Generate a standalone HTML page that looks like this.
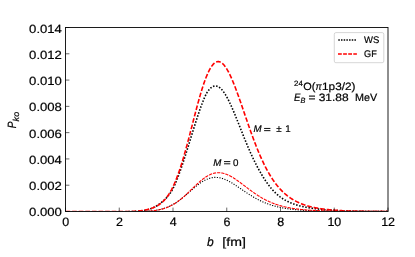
<!DOCTYPE html>
<html><head><meta charset="utf-8"><title>P_ko vs b</title>
<style>html,body{margin:0;padding:0;background:#fff;}body{width:415px;height:257px;overflow:hidden;font-family:"Liberation Sans",sans-serif;}svg{display:block;will-change:transform;}</style>
</head><body>
<svg width="415" height="257" viewBox="0 0 415 257" font-family="Liberation Sans, sans-serif" fill="#000"><style>text{stroke:#000;stroke-width:0.2px;paint-order:stroke;text-rendering:geometricPrecision;}</style>
<rect width="415" height="257" fill="#fff"/>
<clipPath id="c"><rect x="65.5" y="27.5" width="322.5" height="183.75"/></clipPath>
<g clip-path="url(#c)" fill="none">
<path d="M65.50,211.70 L65.96,211.70 L66.42,211.70 L66.88,211.70 L67.35,211.70 L67.81,211.70 L68.27,211.70 L68.73,211.70 L69.19,211.70 L69.65,211.70 L70.11,211.70 L70.58,211.70 L71.04,211.70 L71.50,211.70 L71.96,211.70 L72.42,211.70 L72.88,211.70 L73.34,211.70 L73.80,211.70 L74.27,211.70 L74.73,211.70 L75.19,211.70 L75.65,211.70 L76.11,211.70 L76.57,211.70 L77.03,211.70 L77.50,211.70 L77.96,211.70 L78.42,211.70 L78.88,211.70 L79.34,211.70 L79.80,211.70 L80.26,211.70 L80.73,211.70 L81.19,211.70 L81.65,211.70 L82.11,211.70 L82.57,211.70 L83.03,211.70 L83.49,211.70 L83.95,211.70 L84.42,211.70 L84.88,211.70 L85.34,211.70 L85.80,211.70 L86.26,211.70 L86.72,211.70 L87.18,211.70 L87.65,211.70 L88.11,211.70 L88.57,211.70 L89.03,211.70 L89.49,211.70 L89.95,211.70 L90.41,211.70 L90.88,211.70 L91.34,211.70 L91.80,211.70 L92.26,211.70 L92.72,211.70 L93.18,211.70 L93.64,211.70 L94.11,211.70 L94.57,211.70 L95.03,211.70 L95.49,211.70 L95.95,211.70 L96.41,211.70 L96.87,211.70 L97.33,211.70 L97.80,211.70 L98.26,211.70 L98.72,211.70 L99.18,211.70 L99.64,211.70 L100.10,211.70 L100.56,211.70 L101.03,211.70 L101.49,211.70 L101.95,211.70 L102.41,211.70 L102.87,211.70 L103.33,211.70 L103.79,211.70 L104.26,211.70 L104.72,211.70 L105.18,211.70 L105.64,211.70 L106.10,211.70 L106.56,211.70 L107.02,211.70 L107.48,211.70 L107.95,211.70 L108.41,211.70 L108.87,211.70 L109.33,211.70 L109.79,211.70 L110.25,211.70 L110.71,211.70 L111.18,211.70 L111.64,211.70 L112.10,211.70 L112.56,211.70 L113.02,211.70 L113.48,211.70 L113.94,211.70 L114.41,211.70 L114.87,211.70 L115.33,211.70 L115.79,211.70 L116.25,211.70 L116.71,211.70 L117.17,211.70 L117.64,211.70 L118.10,211.70 L118.56,211.70 L119.02,211.70 L119.48,211.70 L119.94,211.70 L120.40,211.70 L120.86,211.70 L121.33,211.70 L121.79,211.70 L122.25,211.70 L122.71,211.70 L123.17,211.70 L123.63,211.70 L124.09,211.70 L124.56,211.70 L125.02,211.70 L125.48,211.69 L125.94,211.69 L126.40,211.68 L126.86,211.67 L127.32,211.67 L127.79,211.66 L128.25,211.65 L128.71,211.64 L129.17,211.63 L129.63,211.62 L130.09,211.61 L130.55,211.60 L131.02,211.59 L131.48,211.58 L131.94,211.56 L132.40,211.55 L132.86,211.53 L133.32,211.51 L133.78,211.49 L134.24,211.47 L134.71,211.45 L135.17,211.42 L135.63,211.40 L136.09,211.37 L136.55,211.34 L137.01,211.31 L137.47,211.28 L137.94,211.24 L138.40,211.20 L138.86,211.16 L139.32,211.12 L139.78,211.07 L140.24,211.02 L140.70,210.97 L141.17,210.91 L141.63,210.85 L142.09,210.79 L142.55,210.72 L143.01,210.65 L143.47,210.58 L143.93,210.50 L144.39,210.42 L144.86,210.33 L145.32,210.24 L145.78,210.14 L146.24,210.03 L146.70,209.93 L147.16,209.81 L147.62,209.69 L148.09,209.57 L148.55,209.43 L149.01,209.30 L149.47,209.15 L149.93,209.00 L150.39,208.84 L150.85,208.67 L151.32,208.49 L151.78,208.31 L152.24,208.11 L152.70,207.91 L153.16,207.70 L153.62,207.48 L154.08,207.26 L154.55,207.02 L155.01,206.77 L155.47,206.52 L155.93,206.25 L156.39,205.98 L156.85,205.70 L157.31,205.40 L157.77,205.10 L158.24,204.79 L158.70,204.47 L159.16,204.14 L159.62,203.81 L160.08,203.47 L160.54,203.11 L161.00,202.75 L161.47,202.39 L161.93,202.01 L162.39,201.62 L162.85,201.23 L163.31,200.82 L163.77,200.41 L164.23,199.98 L164.70,199.55 L165.16,199.10 L165.62,198.64 L166.08,198.16 L166.54,197.68 L167.00,197.17 L167.46,196.65 L167.92,196.11 L168.39,195.56 L168.85,194.98 L169.31,194.38 L169.77,193.76 L170.23,193.11 L170.69,192.43 L171.15,191.73 L171.62,190.99 L172.08,190.21 L172.54,189.40 L173.00,188.55 L173.46,187.65 L173.92,186.71 L174.38,185.73 L174.85,184.71 L175.31,183.65 L175.77,182.55 L176.23,181.43 L176.69,180.27 L177.15,179.09 L177.61,177.89 L178.08,176.68 L178.54,175.45 L179.00,174.20 L179.46,172.94 L179.92,171.66 L180.38,170.38 L180.84,169.07 L181.30,167.75 L181.77,166.42 L182.23,165.07 L182.69,163.71 L183.15,162.33 L183.61,160.94 L184.07,159.53 L184.53,158.11 L185.00,156.68 L185.46,155.24 L185.92,153.78 L186.38,152.32 L186.84,150.85 L187.30,149.37 L187.76,147.88 L188.23,146.39 L188.69,144.89 L189.15,143.39 L189.61,141.89 L190.07,140.39 L190.53,138.88 L190.99,137.37 L191.45,135.87 L191.92,134.37 L192.38,132.87 L192.84,131.37 L193.30,129.88 L193.76,128.40 L194.22,126.92 L194.68,125.45 L195.15,123.99 L195.61,122.54 L196.07,121.10 L196.53,119.67 L196.99,118.25 L197.45,116.85 L197.91,115.46 L198.38,114.09 L198.84,112.73 L199.30,111.38 L199.76,110.06 L200.22,108.75 L200.68,107.46 L201.14,106.19 L201.61,104.94 L202.07,103.72 L202.53,102.51 L202.99,101.32 L203.45,100.16 L203.91,99.02 L204.37,97.93 L204.83,96.87 L205.30,95.86 L205.76,94.91 L206.22,94.03 L206.68,93.20 L207.14,92.43 L207.60,91.71 L208.06,91.05 L208.53,90.43 L208.99,89.85 L209.45,89.31 L209.91,88.81 L210.37,88.35 L210.83,87.93 L211.29,87.55 L211.76,87.21 L212.22,86.91 L212.68,86.66 L213.14,86.44 L213.60,86.26 L214.06,86.13 L214.52,86.03 L214.98,85.98 L215.45,85.96 L215.91,85.99 L216.37,86.05 L216.83,86.16 L217.29,86.30 L217.75,86.48 L218.21,86.70 L218.68,86.96 L219.14,87.25 L219.60,87.58 L220.06,87.95 L220.52,88.35 L220.98,88.79 L221.44,89.26 L221.91,89.77 L222.37,90.31 L222.83,90.88 L223.29,91.48 L223.75,92.12 L224.21,92.78 L224.67,93.47 L225.14,94.19 L225.60,94.94 L226.06,95.72 L226.52,96.52 L226.98,97.35 L227.44,98.20 L227.90,99.08 L228.36,99.97 L228.83,100.89 L229.29,101.83 L229.75,102.79 L230.21,103.76 L230.67,104.76 L231.13,105.77 L231.59,106.80 L232.06,107.84 L232.52,108.90 L232.98,109.96 L233.44,111.05 L233.90,112.14 L234.36,113.24 L234.82,114.35 L235.29,115.48 L235.75,116.61 L236.21,117.74 L236.67,118.88 L237.13,120.03 L237.59,121.18 L238.05,122.34 L238.52,123.50 L238.98,124.66 L239.44,125.83 L239.90,126.99 L240.36,128.16 L240.82,129.32 L241.28,130.49 L241.74,131.65 L242.21,132.81 L242.67,133.97 L243.13,135.12 L243.59,136.27 L244.05,137.41 L244.51,138.55 L244.97,139.69 L245.44,140.82 L245.90,141.94 L246.36,143.06 L246.82,144.17 L247.28,145.27 L247.74,146.36 L248.20,147.44 L248.67,148.52 L249.13,149.59 L249.59,150.64 L250.05,151.69 L250.51,152.73 L250.97,153.76 L251.43,154.77 L251.89,155.78 L252.36,156.77 L252.82,157.76 L253.28,158.73 L253.74,159.70 L254.20,160.65 L254.66,161.59 L255.12,162.52 L255.59,163.44 L256.05,164.35 L256.51,165.25 L256.97,166.14 L257.43,167.02 L257.89,167.89 L258.35,168.74 L258.82,169.59 L259.28,170.43 L259.74,171.25 L260.20,172.06 L260.66,172.87 L261.12,173.66 L261.58,174.44 L262.05,175.21 L262.51,175.98 L262.97,176.73 L263.43,177.47 L263.89,178.20 L264.35,178.91 L264.81,179.62 L265.27,180.32 L265.74,181.01 L266.20,181.69 L266.66,182.35 L267.12,183.01 L267.58,183.65 L268.04,184.29 L268.50,184.91 L268.97,185.52 L269.43,186.12 L269.89,186.71 L270.35,187.28 L270.81,187.85 L271.27,188.40 L271.73,188.94 L272.20,189.47 L272.66,189.99 L273.12,190.50 L273.58,191.00 L274.04,191.48 L274.50,191.95 L274.96,192.42 L275.42,192.87 L275.89,193.31 L276.35,193.74 L276.81,194.16 L277.27,194.57 L277.73,194.97 L278.19,195.36 L278.65,195.74 L279.12,196.11 L279.58,196.47 L280.04,196.83 L280.50,197.17 L280.96,197.50 L281.42,197.83 L281.88,198.14 L282.35,198.45 L282.81,198.75 L283.27,199.04 L283.73,199.33 L284.19,199.61 L284.65,199.88 L285.11,200.14 L285.58,200.40 L286.04,200.65 L286.50,200.90 L286.96,201.13 L287.42,201.37 L287.88,201.59 L288.34,201.81 L288.80,202.03 L289.27,202.24 L289.73,202.45 L290.19,202.65 L290.65,202.84 L291.11,203.03 L291.57,203.22 L292.03,203.40 L292.50,203.58 L292.96,203.75 L293.42,203.92 L293.88,204.08 L294.34,204.24 L294.80,204.40 L295.26,204.55 L295.73,204.70 L296.19,204.85 L296.65,204.99 L297.11,205.13 L297.57,205.27 L298.03,205.40 L298.49,205.53 L298.95,205.65 L299.42,205.78 L299.88,205.90 L300.34,206.02 L300.80,206.13 L301.26,206.24 L301.72,206.36 L302.18,206.46 L302.65,206.57 L303.11,206.67 L303.57,206.77 L304.03,206.87 L304.49,206.96 L304.95,207.06 L305.41,207.15 L305.88,207.24 L306.34,207.33 L306.80,207.41 L307.26,207.50 L307.72,207.58 L308.18,207.66 L308.64,207.74 L309.11,207.82 L309.57,207.89 L310.03,207.96 L310.49,208.04 L310.95,208.11 L311.41,208.18 L311.87,208.24 L312.33,208.31 L312.80,208.38 L313.26,208.44 L313.72,208.50 L314.18,208.56 L314.64,208.62 L315.10,208.68 L315.56,208.74 L316.03,208.80 L316.49,208.85 L316.95,208.91 L317.41,208.96 L317.87,209.01 L318.33,209.06 L318.79,209.11 L319.26,209.16 L319.72,209.21 L320.18,209.26 L320.64,209.30 L321.10,209.35 L321.56,209.39 L322.02,209.44 L322.48,209.48 L322.95,209.52 L323.41,209.57 L323.87,209.61 L324.33,209.65 L324.79,209.69 L325.25,209.73 L325.71,209.76 L326.18,209.80 L326.64,209.84 L327.10,209.87 L327.56,209.91 L328.02,209.95 L328.48,209.98 L328.94,210.01 L329.41,210.05 L329.87,210.08 L330.33,210.11 L330.79,210.14 L331.25,210.17 L331.71,210.21 L332.17,210.24 L332.64,210.26 L333.10,210.29 L333.56,210.32 L334.02,210.35 L334.48,210.38 L334.94,210.41 L335.40,210.43 L335.86,210.46 L336.33,210.48 L336.79,210.51 L337.25,210.53 L337.71,210.56 L338.17,210.58 L338.63,210.61 L339.09,210.63 L339.56,210.65 L340.02,210.68 L340.48,210.70 L340.94,210.72 L341.40,210.74 L341.86,210.76 L342.32,210.78 L342.79,210.80 L343.25,210.82 L343.71,210.84 L344.17,210.86 L344.63,210.88 L345.09,210.90 L345.55,210.92 L346.02,210.94 L346.48,210.96 L346.94,210.97 L347.40,210.99 L347.86,211.01 L348.32,211.03 L348.78,211.04 L349.24,211.06 L349.71,211.07 L350.17,211.09 L350.63,211.10 L351.09,211.12 L351.55,211.13 L352.01,211.15 L352.47,211.16 L352.94,211.18 L353.40,211.19 L353.86,211.20 L354.32,211.22 L354.78,211.23 L355.24,211.24 L355.70,211.26 L356.17,211.27 L356.63,211.28 L357.09,211.29 L357.55,211.30 L358.01,211.32 L358.47,211.33 L358.93,211.34 L359.39,211.35 L359.86,211.36 L360.32,211.37 L360.78,211.38 L361.24,211.39 L361.70,211.40 L362.16,211.41 L362.62,211.42 L363.09,211.43 L363.55,211.44 L364.01,211.44 L364.47,211.45 L364.93,211.46 L365.39,211.47 L365.85,211.48 L366.32,211.49 L366.78,211.49 L367.24,211.50 L367.70,211.51 L368.16,211.51 L368.62,211.52 L369.08,211.53 L369.55,211.53 L370.01,211.54 L370.47,211.55 L370.93,211.55 L371.39,211.56 L371.85,211.57 L372.31,211.57 L372.77,211.58 L373.24,211.58 L373.70,211.59 L374.16,211.59 L374.62,211.60 L375.08,211.60 L375.54,211.61 L376.00,211.61 L376.47,211.62 L376.93,211.62 L377.39,211.63 L377.85,211.63 L378.31,211.63 L378.77,211.64 L379.23,211.64 L379.70,211.65 L380.16,211.65 L380.62,211.65 L381.08,211.66 L381.54,211.66 L382.00,211.66 L382.46,211.67 L382.92,211.67 L383.39,211.67 L383.85,211.67 L384.31,211.68 L384.77,211.68 L385.23,211.68 L385.69,211.69 L386.15,211.69 L386.62,211.69 L387.08,211.69 L387.54,211.69 L388.00,211.70" stroke="#000" stroke-width="1.6" stroke-dasharray="1.5 1.65"/>
<path d="M65.50,211.67 L65.96,211.67 L66.42,211.67 L66.88,211.67 L67.35,211.67 L67.81,211.67 L68.27,211.67 L68.73,211.67 L69.19,211.67 L69.65,211.67 L70.11,211.67 L70.58,211.67 L71.04,211.67 L71.50,211.67 L71.96,211.67 L72.42,211.67 L72.88,211.67 L73.34,211.67 L73.80,211.67 L74.27,211.67 L74.73,211.67 L75.19,211.67 L75.65,211.67 L76.11,211.67 L76.57,211.67 L77.03,211.67 L77.50,211.67 L77.96,211.67 L78.42,211.67 L78.88,211.67 L79.34,211.67 L79.80,211.67 L80.26,211.67 L80.73,211.67 L81.19,211.67 L81.65,211.67 L82.11,211.67 L82.57,211.67 L83.03,211.67 L83.49,211.67 L83.95,211.67 L84.42,211.67 L84.88,211.67 L85.34,211.67 L85.80,211.67 L86.26,211.67 L86.72,211.67 L87.18,211.67 L87.65,211.67 L88.11,211.67 L88.57,211.67 L89.03,211.67 L89.49,211.67 L89.95,211.67 L90.41,211.67 L90.88,211.67 L91.34,211.67 L91.80,211.67 L92.26,211.67 L92.72,211.67 L93.18,211.67 L93.64,211.67 L94.11,211.67 L94.57,211.67 L95.03,211.67 L95.49,211.67 L95.95,211.67 L96.41,211.67 L96.87,211.67 L97.33,211.67 L97.80,211.67 L98.26,211.67 L98.72,211.67 L99.18,211.67 L99.64,211.67 L100.10,211.67 L100.56,211.67 L101.03,211.67 L101.49,211.67 L101.95,211.67 L102.41,211.67 L102.87,211.67 L103.33,211.67 L103.79,211.67 L104.26,211.67 L104.72,211.67 L105.18,211.67 L105.64,211.67 L106.10,211.67 L106.56,211.67 L107.02,211.67 L107.48,211.67 L107.95,211.67 L108.41,211.67 L108.87,211.67 L109.33,211.67 L109.79,211.67 L110.25,211.67 L110.71,211.67 L111.18,211.67 L111.64,211.67 L112.10,211.67 L112.56,211.67 L113.02,211.67 L113.48,211.67 L113.94,211.67 L114.41,211.67 L114.87,211.67 L115.33,211.67 L115.79,211.67 L116.25,211.67 L116.71,211.67 L117.17,211.67 L117.64,211.67 L118.10,211.67 L118.56,211.67 L119.02,211.67 L119.48,211.67 L119.94,211.67 L120.40,211.67 L120.86,211.67 L121.33,211.67 L121.79,211.67 L122.25,211.67 L122.71,211.67 L123.17,211.67 L123.63,211.67 L124.09,211.67 L124.56,211.67 L125.02,211.67 L125.48,211.66 L125.94,211.66 L126.40,211.65 L126.86,211.64 L127.32,211.63 L127.79,211.62 L128.25,211.60 L128.71,211.59 L129.17,211.58 L129.63,211.56 L130.09,211.55 L130.55,211.53 L131.02,211.51 L131.48,211.49 L131.94,211.47 L132.40,211.45 L132.86,211.42 L133.32,211.40 L133.78,211.37 L134.24,211.34 L134.71,211.31 L135.17,211.28 L135.63,211.25 L136.09,211.21 L136.55,211.18 L137.01,211.14 L137.47,211.09 L137.94,211.05 L138.40,211.01 L138.86,210.96 L139.32,210.91 L139.78,210.85 L140.24,210.80 L140.70,210.74 L141.17,210.68 L141.63,210.61 L142.09,210.55 L142.55,210.48 L143.01,210.41 L143.47,210.33 L143.93,210.25 L144.39,210.17 L144.86,210.08 L145.32,209.99 L145.78,209.90 L146.24,209.80 L146.70,209.69 L147.16,209.59 L147.62,209.48 L148.09,209.36 L148.55,209.24 L149.01,209.11 L149.47,208.98 L149.93,208.85 L150.39,208.70 L150.85,208.56 L151.32,208.40 L151.78,208.24 L152.24,208.07 L152.70,207.90 L153.16,207.72 L153.62,207.53 L154.08,207.33 L154.55,207.12 L155.01,206.91 L155.47,206.69 L155.93,206.46 L156.39,206.22 L156.85,205.97 L157.31,205.71 L157.77,205.44 L158.24,205.15 L158.70,204.86 L159.16,204.55 L159.62,204.24 L160.08,203.90 L160.54,203.56 L161.00,203.20 L161.47,202.83 L161.93,202.44 L162.39,202.04 L162.85,201.61 L163.31,201.18 L163.77,200.72 L164.23,200.24 L164.70,199.75 L165.16,199.23 L165.62,198.70 L166.08,198.14 L166.54,197.56 L167.00,196.95 L167.46,196.32 L167.92,195.67 L168.39,194.99 L168.85,194.29 L169.31,193.56 L169.77,192.81 L170.23,192.03 L170.69,191.22 L171.15,190.38 L171.62,189.52 L172.08,188.63 L172.54,187.70 L173.00,186.75 L173.46,185.77 L173.92,184.77 L174.38,183.73 L174.85,182.66 L175.31,181.56 L175.77,180.44 L176.23,179.28 L176.69,178.10 L177.15,176.89 L177.61,175.65 L178.08,174.38 L178.54,173.09 L179.00,171.77 L179.46,170.42 L179.92,169.04 L180.38,167.64 L180.84,166.21 L181.30,164.76 L181.77,163.28 L182.23,161.78 L182.69,160.26 L183.15,158.71 L183.61,157.14 L184.07,155.55 L184.53,153.93 L185.00,152.30 L185.46,150.65 L185.92,148.98 L186.38,147.29 L186.84,145.59 L187.30,143.87 L187.76,142.14 L188.23,140.40 L188.69,138.65 L189.15,136.89 L189.61,135.12 L190.07,133.34 L190.53,131.55 L190.99,129.76 L191.45,127.97 L191.92,126.18 L192.38,124.38 L192.84,122.59 L193.30,120.80 L193.76,119.01 L194.22,117.23 L194.68,115.45 L195.15,113.68 L195.61,111.92 L196.07,110.17 L196.53,108.43 L196.99,106.70 L197.45,104.99 L197.91,103.30 L198.38,101.62 L198.84,99.97 L199.30,98.33 L199.76,96.71 L200.22,95.12 L200.68,93.55 L201.14,92.01 L201.61,90.49 L202.07,89.01 L202.53,87.55 L202.99,86.12 L203.45,84.72 L203.91,83.36 L204.37,82.03 L204.83,80.74 L205.30,79.48 L205.76,78.26 L206.22,77.07 L206.68,75.93 L207.14,74.83 L207.60,73.76 L208.06,72.74 L208.53,71.76 L208.99,70.82 L209.45,69.92 L209.91,69.07 L210.37,68.26 L210.83,67.50 L211.29,66.78 L211.76,66.11 L212.22,65.49 L212.68,64.91 L213.14,64.37 L213.60,63.89 L214.06,63.45 L214.52,63.06 L214.98,62.71 L215.45,62.41 L215.91,62.16 L216.37,61.96 L216.83,61.80 L217.29,61.69 L217.75,61.62 L218.21,61.60 L218.68,61.63 L219.14,61.70 L219.60,61.82 L220.06,61.98 L220.52,62.18 L220.98,62.43 L221.44,62.72 L221.91,63.05 L222.37,63.43 L222.83,63.84 L223.29,64.30 L223.75,64.79 L224.21,65.33 L224.67,65.90 L225.14,66.51 L225.60,67.16 L226.06,67.84 L226.52,68.55 L226.98,69.30 L227.44,70.09 L227.90,70.90 L228.36,71.75 L228.83,72.62 L229.29,73.53 L229.75,74.46 L230.21,75.42 L230.67,76.41 L231.13,77.42 L231.59,78.46 L232.06,79.52 L232.52,80.60 L232.98,81.71 L233.44,82.83 L233.90,83.98 L234.36,85.14 L234.82,86.32 L235.29,87.52 L235.75,88.73 L236.21,89.96 L236.67,91.20 L237.13,92.45 L237.59,93.72 L238.05,95.00 L238.52,96.29 L238.98,97.59 L239.44,98.90 L239.90,100.21 L240.36,101.53 L240.82,102.86 L241.28,104.20 L241.74,105.54 L242.21,106.88 L242.67,108.22 L243.13,109.57 L243.59,110.92 L244.05,112.27 L244.51,113.62 L244.97,114.97 L245.44,116.32 L245.90,117.67 L246.36,119.01 L246.82,120.35 L247.28,121.69 L247.74,123.03 L248.20,124.36 L248.67,125.68 L249.13,127.00 L249.59,128.31 L250.05,129.61 L250.51,130.91 L250.97,132.20 L251.43,133.48 L251.89,134.75 L252.36,136.02 L252.82,137.27 L253.28,138.52 L253.74,139.75 L254.20,140.97 L254.66,142.19 L255.12,143.39 L255.59,144.58 L256.05,145.76 L256.51,146.93 L256.97,148.08 L257.43,149.23 L257.89,150.36 L258.35,151.47 L258.82,152.58 L259.28,153.67 L259.74,154.75 L260.20,155.82 L260.66,156.87 L261.12,157.91 L261.58,158.93 L262.05,159.94 L262.51,160.94 L262.97,161.92 L263.43,162.89 L263.89,163.85 L264.35,164.79 L264.81,165.72 L265.27,166.63 L265.74,167.53 L266.20,168.42 L266.66,169.29 L267.12,170.15 L267.58,171.00 L268.04,171.83 L268.50,172.65 L268.97,173.45 L269.43,174.24 L269.89,175.02 L270.35,175.78 L270.81,176.53 L271.27,177.27 L271.73,177.99 L272.20,178.70 L272.66,179.40 L273.12,180.09 L273.58,180.76 L274.04,181.42 L274.50,182.07 L274.96,182.70 L275.42,183.33 L275.89,183.94 L276.35,184.54 L276.81,185.13 L277.27,185.70 L277.73,186.27 L278.19,186.82 L278.65,187.36 L279.12,187.89 L279.58,188.42 L280.04,188.93 L280.50,189.43 L280.96,189.91 L281.42,190.39 L281.88,190.86 L282.35,191.32 L282.81,191.77 L283.27,192.21 L283.73,192.65 L284.19,193.07 L284.65,193.48 L285.11,193.89 L285.58,194.28 L286.04,194.67 L286.50,195.05 L286.96,195.42 L287.42,195.79 L287.88,196.14 L288.34,196.49 L288.80,196.83 L289.27,197.17 L289.73,197.49 L290.19,197.81 L290.65,198.13 L291.11,198.43 L291.57,198.73 L292.03,199.02 L292.50,199.31 L292.96,199.59 L293.42,199.86 L293.88,200.13 L294.34,200.39 L294.80,200.65 L295.26,200.90 L295.73,201.15 L296.19,201.39 L296.65,201.62 L297.11,201.85 L297.57,202.08 L298.03,202.29 L298.49,202.51 L298.95,202.72 L299.42,202.92 L299.88,203.12 L300.34,203.32 L300.80,203.51 L301.26,203.70 L301.72,203.88 L302.18,204.06 L302.65,204.24 L303.11,204.41 L303.57,204.57 L304.03,204.74 L304.49,204.90 L304.95,205.05 L305.41,205.20 L305.88,205.35 L306.34,205.50 L306.80,205.64 L307.26,205.78 L307.72,205.92 L308.18,206.05 L308.64,206.18 L309.11,206.31 L309.57,206.43 L310.03,206.55 L310.49,206.67 L310.95,206.78 L311.41,206.90 L311.87,207.01 L312.33,207.11 L312.80,207.22 L313.26,207.32 L313.72,207.42 L314.18,207.52 L314.64,207.62 L315.10,207.71 L315.56,207.80 L316.03,207.89 L316.49,207.98 L316.95,208.06 L317.41,208.15 L317.87,208.23 L318.33,208.31 L318.79,208.38 L319.26,208.46 L319.72,208.53 L320.18,208.61 L320.64,208.68 L321.10,208.75 L321.56,208.81 L322.02,208.88 L322.48,208.94 L322.95,209.01 L323.41,209.07 L323.87,209.13 L324.33,209.19 L324.79,209.24 L325.25,209.30 L325.71,209.35 L326.18,209.41 L326.64,209.46 L327.10,209.51 L327.56,209.56 L328.02,209.61 L328.48,209.66 L328.94,209.71 L329.41,209.75 L329.87,209.80 L330.33,209.84 L330.79,209.88 L331.25,209.92 L331.71,209.97 L332.17,210.00 L332.64,210.04 L333.10,210.08 L333.56,210.12 L334.02,210.16 L334.48,210.19 L334.94,210.23 L335.40,210.26 L335.86,210.29 L336.33,210.33 L336.79,210.36 L337.25,210.39 L337.71,210.42 L338.17,210.45 L338.63,210.48 L339.09,210.51 L339.56,210.54 L340.02,210.56 L340.48,210.59 L340.94,210.62 L341.40,210.64 L341.86,210.67 L342.32,210.69 L342.79,210.72 L343.25,210.74 L343.71,210.76 L344.17,210.78 L344.63,210.81 L345.09,210.83 L345.55,210.85 L346.02,210.87 L346.48,210.89 L346.94,210.91 L347.40,210.93 L347.86,210.95 L348.32,210.97 L348.78,210.98 L349.24,211.00 L349.71,211.02 L350.17,211.03 L350.63,211.05 L351.09,211.07 L351.55,211.08 L352.01,211.10 L352.47,211.11 L352.94,211.13 L353.40,211.14 L353.86,211.16 L354.32,211.17 L354.78,211.18 L355.24,211.20 L355.70,211.21 L356.17,211.22 L356.63,211.23 L357.09,211.25 L357.55,211.26 L358.01,211.27 L358.47,211.28 L358.93,211.29 L359.39,211.30 L359.86,211.31 L360.32,211.32 L360.78,211.33 L361.24,211.34 L361.70,211.35 L362.16,211.36 L362.62,211.37 L363.09,211.38 L363.55,211.39 L364.01,211.39 L364.47,211.40 L364.93,211.41 L365.39,211.42 L365.85,211.43 L366.32,211.43 L366.78,211.44 L367.24,211.45 L367.70,211.46 L368.16,211.46 L368.62,211.47 L369.08,211.48 L369.55,211.48 L370.01,211.49 L370.47,211.49 L370.93,211.50 L371.39,211.51 L371.85,211.51 L372.31,211.52 L372.77,211.52 L373.24,211.53 L373.70,211.53 L374.16,211.54 L374.62,211.54 L375.08,211.55 L375.54,211.55 L376.00,211.56 L376.47,211.56 L376.93,211.57 L377.39,211.57 L377.85,211.57 L378.31,211.58 L378.77,211.58 L379.23,211.59 L379.70,211.59 L380.16,211.59 L380.62,211.60 L381.08,211.60 L381.54,211.60 L382.00,211.61 L382.46,211.61 L382.92,211.61 L383.39,211.62 L383.85,211.62 L384.31,211.62 L384.77,211.63 L385.23,211.63 L385.69,211.63 L386.15,211.63 L386.62,211.64 L387.08,211.64 L387.54,211.64 L388.00,211.64" stroke="#f00" stroke-width="1.6" stroke-dasharray="4.7 1.9"/>
<path d="M65.50,211.74 L65.96,211.74 L66.42,211.74 L66.88,211.74 L67.35,211.74 L67.81,211.74 L68.27,211.74 L68.73,211.74 L69.19,211.74 L69.65,211.74 L70.11,211.74 L70.58,211.74 L71.04,211.74 L71.50,211.74 L71.96,211.74 L72.42,211.74 L72.88,211.74 L73.34,211.74 L73.80,211.74 L74.27,211.74 L74.73,211.74 L75.19,211.74 L75.65,211.74 L76.11,211.74 L76.57,211.74 L77.03,211.74 L77.50,211.74 L77.96,211.74 L78.42,211.74 L78.88,211.74 L79.34,211.74 L79.80,211.74 L80.26,211.74 L80.73,211.74 L81.19,211.74 L81.65,211.74 L82.11,211.74 L82.57,211.74 L83.03,211.74 L83.49,211.74 L83.95,211.74 L84.42,211.74 L84.88,211.74 L85.34,211.74 L85.80,211.74 L86.26,211.74 L86.72,211.74 L87.18,211.74 L87.65,211.74 L88.11,211.74 L88.57,211.74 L89.03,211.74 L89.49,211.74 L89.95,211.74 L90.41,211.74 L90.88,211.74 L91.34,211.74 L91.80,211.74 L92.26,211.74 L92.72,211.74 L93.18,211.74 L93.64,211.74 L94.11,211.74 L94.57,211.74 L95.03,211.74 L95.49,211.74 L95.95,211.74 L96.41,211.74 L96.87,211.74 L97.33,211.74 L97.80,211.74 L98.26,211.74 L98.72,211.74 L99.18,211.74 L99.64,211.74 L100.10,211.74 L100.56,211.74 L101.03,211.74 L101.49,211.74 L101.95,211.74 L102.41,211.74 L102.87,211.74 L103.33,211.74 L103.79,211.74 L104.26,211.74 L104.72,211.74 L105.18,211.74 L105.64,211.74 L106.10,211.74 L106.56,211.74 L107.02,211.74 L107.48,211.74 L107.95,211.74 L108.41,211.74 L108.87,211.74 L109.33,211.74 L109.79,211.74 L110.25,211.74 L110.71,211.74 L111.18,211.74 L111.64,211.74 L112.10,211.74 L112.56,211.74 L113.02,211.74 L113.48,211.74 L113.94,211.74 L114.41,211.74 L114.87,211.74 L115.33,211.74 L115.79,211.74 L116.25,211.74 L116.71,211.74 L117.17,211.74 L117.64,211.74 L118.10,211.74 L118.56,211.74 L119.02,211.74 L119.48,211.74 L119.94,211.74 L120.40,211.74 L120.86,211.74 L121.33,211.74 L121.79,211.74 L122.25,211.74 L122.71,211.74 L123.17,211.74 L123.63,211.74 L124.09,211.74 L124.56,211.74 L125.02,211.74 L125.48,211.74 L125.94,211.74 L126.40,211.74 L126.86,211.74 L127.32,211.73 L127.79,211.73 L128.25,211.73 L128.71,211.73 L129.17,211.73 L129.63,211.72 L130.09,211.72 L130.55,211.72 L131.02,211.72 L131.48,211.71 L131.94,211.71 L132.40,211.71 L132.86,211.70 L133.32,211.70 L133.78,211.69 L134.24,211.69 L134.71,211.68 L135.17,211.68 L135.63,211.67 L136.09,211.67 L136.55,211.66 L137.01,211.65 L137.47,211.64 L137.94,211.63 L138.40,211.62 L138.86,211.61 L139.32,211.60 L139.78,211.59 L140.24,211.58 L140.70,211.57 L141.17,211.55 L141.63,211.54 L142.09,211.52 L142.55,211.50 L143.01,211.48 L143.47,211.46 L143.93,211.44 L144.39,211.42 L144.86,211.40 L145.32,211.37 L145.78,211.35 L146.24,211.32 L146.70,211.29 L147.16,211.26 L147.62,211.23 L148.09,211.19 L148.55,211.16 L149.01,211.12 L149.47,211.08 L149.93,211.04 L150.39,210.99 L150.85,210.95 L151.32,210.90 L151.78,210.85 L152.24,210.80 L152.70,210.74 L153.16,210.68 L153.62,210.62 L154.08,210.56 L154.55,210.49 L155.01,210.43 L155.47,210.35 L155.93,210.28 L156.39,210.20 L156.85,210.12 L157.31,210.03 L157.77,209.95 L158.24,209.86 L158.70,209.76 L159.16,209.66 L159.62,209.56 L160.08,209.45 L160.54,209.34 L161.00,209.23 L161.47,209.11 L161.93,208.98 L162.39,208.85 L162.85,208.72 L163.31,208.58 L163.77,208.44 L164.23,208.29 L164.70,208.14 L165.16,207.98 L165.62,207.82 L166.08,207.65 L166.54,207.47 L167.00,207.29 L167.46,207.11 L167.92,206.92 L168.39,206.72 L168.85,206.51 L169.31,206.31 L169.77,206.09 L170.23,205.87 L170.69,205.64 L171.15,205.41 L171.62,205.17 L172.08,204.92 L172.54,204.67 L173.00,204.41 L173.46,204.15 L173.92,203.88 L174.38,203.60 L174.85,203.32 L175.31,203.03 L175.77,202.73 L176.23,202.43 L176.69,202.12 L177.15,201.81 L177.61,201.49 L178.08,201.17 L178.54,200.84 L179.00,200.51 L179.46,200.17 L179.92,199.82 L180.38,199.47 L180.84,199.12 L181.30,198.76 L181.77,198.40 L182.23,198.03 L182.69,197.66 L183.15,197.28 L183.61,196.90 L184.07,196.52 L184.53,196.13 L185.00,195.74 L185.46,195.35 L185.92,194.96 L186.38,194.56 L186.84,194.16 L187.30,193.76 L187.76,193.36 L188.23,192.96 L188.69,192.56 L189.15,192.15 L189.61,191.75 L190.07,191.34 L190.53,190.94 L190.99,190.54 L191.45,190.13 L191.92,189.73 L192.38,189.33 L192.84,188.94 L193.30,188.54 L193.76,188.15 L194.22,187.76 L194.68,187.37 L195.15,186.99 L195.61,186.61 L196.07,186.23 L196.53,185.86 L196.99,185.49 L197.45,185.13 L197.91,184.78 L198.38,184.42 L198.84,184.08 L199.30,183.74 L199.76,183.41 L200.22,183.08 L200.68,182.76 L201.14,182.45 L201.61,182.15 L202.07,181.85 L202.53,181.57 L202.99,181.29 L203.45,181.01 L203.91,180.75 L204.37,180.50 L204.83,180.25 L205.30,180.02 L205.76,179.79 L206.22,179.57 L206.68,179.37 L207.14,179.17 L207.60,178.98 L208.06,178.80 L208.53,178.64 L208.99,178.48 L209.45,178.34 L209.91,178.20 L210.37,178.07 L210.83,177.96 L211.29,177.86 L211.76,177.76 L212.22,177.68 L212.68,177.61 L213.14,177.55 L213.60,177.50 L214.06,177.46 L214.52,177.43 L214.98,177.41 L215.45,177.41 L215.91,177.41 L216.37,177.42 L216.83,177.45 L217.29,177.48 L217.75,177.52 L218.21,177.58 L218.68,177.64 L219.14,177.72 L219.60,177.80 L220.06,177.90 L220.52,178.00 L220.98,178.11 L221.44,178.23 L221.91,178.36 L222.37,178.50 L222.83,178.65 L223.29,178.80 L223.75,178.97 L224.21,179.14 L224.67,179.32 L225.14,179.51 L225.60,179.70 L226.06,179.91 L226.52,180.12 L226.98,180.33 L227.44,180.55 L227.90,180.78 L228.36,181.02 L228.83,181.26 L229.29,181.50 L229.75,181.76 L230.21,182.01 L230.67,182.28 L231.13,182.54 L231.59,182.81 L232.06,183.09 L232.52,183.37 L232.98,183.65 L233.44,183.94 L233.90,184.23 L234.36,184.52 L234.82,184.82 L235.29,185.12 L235.75,185.42 L236.21,185.72 L236.67,186.03 L237.13,186.33 L237.59,186.64 L238.05,186.95 L238.52,187.27 L238.98,187.58 L239.44,187.89 L239.90,188.21 L240.36,188.52 L240.82,188.84 L241.28,189.15 L241.74,189.47 L242.21,189.78 L242.67,190.10 L243.13,190.41 L243.59,190.73 L244.05,191.04 L244.51,191.35 L244.97,191.66 L245.44,191.97 L245.90,192.28 L246.36,192.59 L246.82,192.89 L247.28,193.19 L247.74,193.50 L248.20,193.79 L248.67,194.09 L249.13,194.39 L249.59,194.68 L250.05,194.97 L250.51,195.26 L250.97,195.54 L251.43,195.83 L251.89,196.11 L252.36,196.39 L252.82,196.66 L253.28,196.93 L253.74,197.20 L254.20,197.47 L254.66,197.73 L255.12,197.99 L255.59,198.25 L256.05,198.50 L256.51,198.75 L256.97,199.00 L257.43,199.25 L257.89,199.49 L258.35,199.72 L258.82,199.96 L259.28,200.19 L259.74,200.42 L260.20,200.64 L260.66,200.86 L261.12,201.08 L261.58,201.30 L262.05,201.51 L262.51,201.72 L262.97,201.92 L263.43,202.12 L263.89,202.32 L264.35,202.52 L264.81,202.71 L265.27,202.90 L265.74,203.08 L266.20,203.26 L266.66,203.44 L267.12,203.62 L267.58,203.79 L268.04,203.96 L268.50,204.12 L268.97,204.29 L269.43,204.45 L269.89,204.60 L270.35,204.76 L270.81,204.91 L271.27,205.06 L271.73,205.20 L272.20,205.35 L272.66,205.48 L273.12,205.62 L273.58,205.76 L274.04,205.89 L274.50,206.02 L274.96,206.14 L275.42,206.26 L275.89,206.39 L276.35,206.50 L276.81,206.62 L277.27,206.73 L277.73,206.84 L278.19,206.95 L278.65,207.06 L279.12,207.16 L279.58,207.26 L280.04,207.36 L280.50,207.46 L280.96,207.55 L281.42,207.65 L281.88,207.74 L282.35,207.83 L282.81,207.91 L283.27,208.00 L283.73,208.08 L284.19,208.16 L284.65,208.24 L285.11,208.32 L285.58,208.40 L286.04,208.47 L286.50,208.54 L286.96,208.61 L287.42,208.68 L287.88,208.75 L288.34,208.82 L288.80,208.88 L289.27,208.94 L289.73,209.00 L290.19,209.06 L290.65,209.12 L291.11,209.18 L291.57,209.24 L292.03,209.29 L292.50,209.34 L292.96,209.40 L293.42,209.45 L293.88,209.50 L294.34,209.55 L294.80,209.59 L295.26,209.64 L295.73,209.68 L296.19,209.73 L296.65,209.77 L297.11,209.81 L297.57,209.86 L298.03,209.90 L298.49,209.94 L298.95,209.97 L299.42,210.01 L299.88,210.05 L300.34,210.08 L300.80,210.12 L301.26,210.15 L301.72,210.19 L302.18,210.22 L302.65,210.25 L303.11,210.28 L303.57,210.31 L304.03,210.34 L304.49,210.37 L304.95,210.40 L305.41,210.43 L305.88,210.45 L306.34,210.48 L306.80,210.51 L307.26,210.53 L307.72,210.56 L308.18,210.58 L308.64,210.60 L309.11,210.63 L309.57,210.65 L310.03,210.67 L310.49,210.69 L310.95,210.71 L311.41,210.73 L311.87,210.75 L312.33,210.77 L312.80,210.79 L313.26,210.81 L313.72,210.83 L314.18,210.84 L314.64,210.86 L315.10,210.88 L315.56,210.89 L316.03,210.91 L316.49,210.93 L316.95,210.94 L317.41,210.96 L317.87,210.97 L318.33,210.98 L318.79,211.00 L319.26,211.01 L319.72,211.02 L320.18,211.04 L320.64,211.05 L321.10,211.06 L321.56,211.07 L322.02,211.09 L322.48,211.10 L322.95,211.11 L323.41,211.12 L323.87,211.13 L324.33,211.14 L324.79,211.15 L325.25,211.16 L325.71,211.17 L326.18,211.18 L326.64,211.19 L327.10,211.20 L327.56,211.20 L328.02,211.21 L328.48,211.22 L328.94,211.23 L329.41,211.24 L329.87,211.24 L330.33,211.25 L330.79,211.26 L331.25,211.27 L331.71,211.27 L332.17,211.28 L332.64,211.29 L333.10,211.29 L333.56,211.30 L334.02,211.30 L334.48,211.31 L334.94,211.32 L335.40,211.32 L335.86,211.33 L336.33,211.33 L336.79,211.34 L337.25,211.34 L337.71,211.35 L338.17,211.35 L338.63,211.36 L339.09,211.36 L339.56,211.36 L340.02,211.37 L340.48,211.37 L340.94,211.38 L341.40,211.38 L341.86,211.38 L342.32,211.39 L342.79,211.39 L343.25,211.39 L343.71,211.40 L344.17,211.40 L344.63,211.40 L345.09,211.40 L345.55,211.41 L346.02,211.41 L346.48,211.41 L346.94,211.42 L347.40,211.42 L347.86,211.42 L348.32,211.42 L348.78,211.42 L349.24,211.43 L349.71,211.43 L350.17,211.43 L350.63,211.43 L351.09,211.43 L351.55,211.43 L352.01,211.44 L352.47,211.44 L352.94,211.44 L353.40,211.44 L353.86,211.44 L354.32,211.44 L354.78,211.44 L355.24,211.44 L355.70,211.44 L356.17,211.44 L356.63,211.44 L357.09,211.44 L357.55,211.44 L358.01,211.44 L358.47,211.44 L358.93,211.44 L359.39,211.44 L359.86,211.44 L360.32,211.44 L360.78,211.44 L361.24,211.44 L361.70,211.44 L362.16,211.44 L362.62,211.44 L363.09,211.44 L363.55,211.44 L364.01,211.44 L364.47,211.44 L364.93,211.44 L365.39,211.44 L365.85,211.43 L366.32,211.43 L366.78,211.43 L367.24,211.43 L367.70,211.43 L368.16,211.42 L368.62,211.42 L369.08,211.42 L369.55,211.42 L370.01,211.42 L370.47,211.41 L370.93,211.41 L371.39,211.41 L371.85,211.40 L372.31,211.40 L372.77,211.40 L373.24,211.39 L373.70,211.39 L374.16,211.39 L374.62,211.38 L375.08,211.38 L375.54,211.37 L376.00,211.37 L376.47,211.36 L376.93,211.36 L377.39,211.35 L377.85,211.35 L378.31,211.34 L378.77,211.34 L379.23,211.33 L379.70,211.32 L380.16,211.32 L380.62,211.31 L381.08,211.30 L381.54,211.30 L382.00,211.29 L382.46,211.28 L382.92,211.27 L383.39,211.26 L383.85,211.25 L384.31,211.24 L384.77,211.23 L385.23,211.22 L385.69,211.21 L386.15,211.20 L386.62,211.19 L387.08,211.18 L387.54,211.16 L388.00,211.15" stroke="#000" stroke-width="1.15" stroke-dasharray="1.1 1.5"/>
<path d="M65.50,211.74 L65.96,211.74 L66.42,211.74 L66.88,211.74 L67.35,211.74 L67.81,211.74 L68.27,211.74 L68.73,211.74 L69.19,211.74 L69.65,211.74 L70.11,211.74 L70.58,211.74 L71.04,211.74 L71.50,211.74 L71.96,211.74 L72.42,211.74 L72.88,211.74 L73.34,211.74 L73.80,211.74 L74.27,211.74 L74.73,211.74 L75.19,211.74 L75.65,211.74 L76.11,211.74 L76.57,211.74 L77.03,211.74 L77.50,211.74 L77.96,211.74 L78.42,211.74 L78.88,211.74 L79.34,211.74 L79.80,211.74 L80.26,211.74 L80.73,211.74 L81.19,211.74 L81.65,211.74 L82.11,211.74 L82.57,211.74 L83.03,211.74 L83.49,211.74 L83.95,211.74 L84.42,211.74 L84.88,211.74 L85.34,211.74 L85.80,211.74 L86.26,211.74 L86.72,211.74 L87.18,211.74 L87.65,211.74 L88.11,211.74 L88.57,211.74 L89.03,211.74 L89.49,211.74 L89.95,211.74 L90.41,211.74 L90.88,211.74 L91.34,211.74 L91.80,211.74 L92.26,211.74 L92.72,211.74 L93.18,211.74 L93.64,211.74 L94.11,211.74 L94.57,211.74 L95.03,211.74 L95.49,211.74 L95.95,211.74 L96.41,211.74 L96.87,211.74 L97.33,211.74 L97.80,211.74 L98.26,211.74 L98.72,211.74 L99.18,211.74 L99.64,211.74 L100.10,211.74 L100.56,211.74 L101.03,211.74 L101.49,211.74 L101.95,211.74 L102.41,211.74 L102.87,211.74 L103.33,211.74 L103.79,211.74 L104.26,211.74 L104.72,211.74 L105.18,211.74 L105.64,211.74 L106.10,211.74 L106.56,211.74 L107.02,211.74 L107.48,211.74 L107.95,211.74 L108.41,211.74 L108.87,211.74 L109.33,211.74 L109.79,211.74 L110.25,211.74 L110.71,211.74 L111.18,211.74 L111.64,211.74 L112.10,211.74 L112.56,211.74 L113.02,211.74 L113.48,211.74 L113.94,211.74 L114.41,211.74 L114.87,211.74 L115.33,211.74 L115.79,211.74 L116.25,211.74 L116.71,211.74 L117.17,211.74 L117.64,211.74 L118.10,211.74 L118.56,211.74 L119.02,211.74 L119.48,211.74 L119.94,211.74 L120.40,211.74 L120.86,211.74 L121.33,211.74 L121.79,211.74 L122.25,211.74 L122.71,211.74 L123.17,211.74 L123.63,211.74 L124.09,211.74 L124.56,211.74 L125.02,211.74 L125.48,211.74 L125.94,211.74 L126.40,211.74 L126.86,211.74 L127.32,211.74 L127.79,211.73 L128.25,211.73 L128.71,211.73 L129.17,211.73 L129.63,211.73 L130.09,211.72 L130.55,211.72 L131.02,211.72 L131.48,211.72 L131.94,211.71 L132.40,211.71 L132.86,211.71 L133.32,211.70 L133.78,211.70 L134.24,211.69 L134.71,211.69 L135.17,211.68 L135.63,211.68 L136.09,211.67 L136.55,211.67 L137.01,211.66 L137.47,211.65 L137.94,211.64 L138.40,211.63 L138.86,211.62 L139.32,211.61 L139.78,211.60 L140.24,211.59 L140.70,211.58 L141.17,211.57 L141.63,211.55 L142.09,211.54 L142.55,211.52 L143.01,211.50 L143.47,211.49 L143.93,211.47 L144.39,211.45 L144.86,211.42 L145.32,211.40 L145.78,211.38 L146.24,211.35 L146.70,211.32 L147.16,211.30 L147.62,211.27 L148.09,211.23 L148.55,211.20 L149.01,211.16 L149.47,211.13 L149.93,211.09 L150.39,211.05 L150.85,211.00 L151.32,210.96 L151.78,210.91 L152.24,210.86 L152.70,210.81 L153.16,210.75 L153.62,210.69 L154.08,210.63 L154.55,210.57 L155.01,210.51 L155.47,210.44 L155.93,210.37 L156.39,210.29 L156.85,210.21 L157.31,210.13 L157.77,210.05 L158.24,209.96 L158.70,209.87 L159.16,209.78 L159.62,209.68 L160.08,209.58 L160.54,209.47 L161.00,209.36 L161.47,209.24 L161.93,209.12 L162.39,209.00 L162.85,208.87 L163.31,208.74 L163.77,208.60 L164.23,208.46 L164.70,208.31 L165.16,208.15 L165.62,207.99 L166.08,207.83 L166.54,207.66 L167.00,207.48 L167.46,207.30 L167.92,207.11 L168.39,206.92 L168.85,206.72 L169.31,206.51 L169.77,206.30 L170.23,206.08 L170.69,205.85 L171.15,205.62 L171.62,205.38 L172.08,205.13 L172.54,204.88 L173.00,204.62 L173.46,204.36 L173.92,204.08 L174.38,203.81 L174.85,203.52 L175.31,203.23 L175.77,202.93 L176.23,202.62 L176.69,202.31 L177.15,201.99 L177.61,201.66 L178.08,201.33 L178.54,200.99 L179.00,200.65 L179.46,200.30 L179.92,199.94 L180.38,199.58 L180.84,199.21 L181.30,198.83 L181.77,198.45 L182.23,198.07 L182.69,197.68 L183.15,197.28 L183.61,196.88 L184.07,196.47 L184.53,196.06 L185.00,195.65 L185.46,195.23 L185.92,194.80 L186.38,194.38 L186.84,193.95 L187.30,193.51 L187.76,193.08 L188.23,192.64 L188.69,192.20 L189.15,191.75 L189.61,191.31 L190.07,190.86 L190.53,190.41 L190.99,189.96 L191.45,189.51 L191.92,189.06 L192.38,188.61 L192.84,188.16 L193.30,187.71 L193.76,187.27 L194.22,186.82 L194.68,186.37 L195.15,185.93 L195.61,185.49 L196.07,185.05 L196.53,184.61 L196.99,184.18 L197.45,183.75 L197.91,183.33 L198.38,182.91 L198.84,182.49 L199.30,182.08 L199.76,181.68 L200.22,181.28 L200.68,180.88 L201.14,180.50 L201.61,180.12 L202.07,179.74 L202.53,179.37 L202.99,179.01 L203.45,178.66 L203.91,178.32 L204.37,177.98 L204.83,177.66 L205.30,177.34 L205.76,177.03 L206.22,176.73 L206.68,176.44 L207.14,176.16 L207.60,175.89 L208.06,175.62 L208.53,175.37 L208.99,175.13 L209.45,174.90 L209.91,174.68 L210.37,174.48 L210.83,174.28 L211.29,174.09 L211.76,173.92 L212.22,173.76 L212.68,173.60 L213.14,173.46 L213.60,173.33 L214.06,173.22 L214.52,173.11 L214.98,173.02 L215.45,172.94 L215.91,172.87 L216.37,172.81 L216.83,172.76 L217.29,172.72 L217.75,172.70 L218.21,172.69 L218.68,172.69 L219.14,172.70 L219.60,172.72 L220.06,172.75 L220.52,172.80 L220.98,172.85 L221.44,172.92 L221.91,172.99 L222.37,173.08 L222.83,173.18 L223.29,173.29 L223.75,173.41 L224.21,173.53 L224.67,173.67 L225.14,173.82 L225.60,173.98 L226.06,174.15 L226.52,174.32 L226.98,174.51 L227.44,174.70 L227.90,174.90 L228.36,175.11 L228.83,175.33 L229.29,175.55 L229.75,175.79 L230.21,176.03 L230.67,176.28 L231.13,176.53 L231.59,176.79 L232.06,177.06 L232.52,177.33 L232.98,177.61 L233.44,177.90 L233.90,178.19 L234.36,178.49 L234.82,178.79 L235.29,179.09 L235.75,179.40 L236.21,179.72 L236.67,180.03 L237.13,180.36 L237.59,180.68 L238.05,181.01 L238.52,181.34 L238.98,181.68 L239.44,182.01 L239.90,182.35 L240.36,182.69 L240.82,183.04 L241.28,183.38 L241.74,183.73 L242.21,184.07 L242.67,184.42 L243.13,184.77 L243.59,185.12 L244.05,185.47 L244.51,185.82 L244.97,186.17 L245.44,186.52 L245.90,186.87 L246.36,187.22 L246.82,187.57 L247.28,187.92 L247.74,188.27 L248.20,188.62 L248.67,188.96 L249.13,189.30 L249.59,189.65 L250.05,189.99 L250.51,190.33 L250.97,190.66 L251.43,191.00 L251.89,191.33 L252.36,191.66 L252.82,191.99 L253.28,192.32 L253.74,192.64 L254.20,192.96 L254.66,193.28 L255.12,193.59 L255.59,193.91 L256.05,194.21 L256.51,194.52 L256.97,194.82 L257.43,195.12 L257.89,195.42 L258.35,195.72 L258.82,196.01 L259.28,196.29 L259.74,196.58 L260.20,196.86 L260.66,197.13 L261.12,197.41 L261.58,197.68 L262.05,197.94 L262.51,198.21 L262.97,198.46 L263.43,198.72 L263.89,198.97 L264.35,199.22 L264.81,199.46 L265.27,199.71 L265.74,199.94 L266.20,200.18 L266.66,200.41 L267.12,200.63 L267.58,200.86 L268.04,201.08 L268.50,201.29 L268.97,201.51 L269.43,201.71 L269.89,201.92 L270.35,202.12 L270.81,202.32 L271.27,202.51 L271.73,202.71 L272.20,202.89 L272.66,203.08 L273.12,203.26 L273.58,203.44 L274.04,203.61 L274.50,203.78 L274.96,203.95 L275.42,204.12 L275.89,204.28 L276.35,204.44 L276.81,204.60 L277.27,204.75 L277.73,204.90 L278.19,205.04 L278.65,205.19 L279.12,205.33 L279.58,205.47 L280.04,205.60 L280.50,205.74 L280.96,205.87 L281.42,205.99 L281.88,206.12 L282.35,206.24 L282.81,206.36 L283.27,206.47 L283.73,206.59 L284.19,206.70 L284.65,206.81 L285.11,206.92 L285.58,207.02 L286.04,207.13 L286.50,207.23 L286.96,207.32 L287.42,207.42 L287.88,207.51 L288.34,207.60 L288.80,207.69 L289.27,207.78 L289.73,207.87 L290.19,207.95 L290.65,208.03 L291.11,208.11 L291.57,208.19 L292.03,208.27 L292.50,208.34 L292.96,208.42 L293.42,208.49 L293.88,208.56 L294.34,208.63 L294.80,208.69 L295.26,208.76 L295.73,208.82 L296.19,208.88 L296.65,208.95 L297.11,209.00 L297.57,209.06 L298.03,209.12 L298.49,209.17 L298.95,209.23 L299.42,209.28 L299.88,209.33 L300.34,209.38 L300.80,209.43 L301.26,209.48 L301.72,209.53 L302.18,209.57 L302.65,209.62 L303.11,209.66 L303.57,209.71 L304.03,209.75 L304.49,209.79 L304.95,209.83 L305.41,209.87 L305.88,209.91 L306.34,209.94 L306.80,209.98 L307.26,210.02 L307.72,210.05 L308.18,210.09 L308.64,210.12 L309.11,210.15 L309.57,210.18 L310.03,210.21 L310.49,210.24 L310.95,210.27 L311.41,210.30 L311.87,210.33 L312.33,210.36 L312.80,210.39 L313.26,210.41 L313.72,210.44 L314.18,210.46 L314.64,210.49 L315.10,210.51 L315.56,210.54 L316.03,210.56 L316.49,210.58 L316.95,210.60 L317.41,210.62 L317.87,210.64 L318.33,210.67 L318.79,210.69 L319.26,210.70 L319.72,210.72 L320.18,210.74 L320.64,210.76 L321.10,210.78 L321.56,210.80 L322.02,210.81 L322.48,210.83 L322.95,210.85 L323.41,210.86 L323.87,210.88 L324.33,210.89 L324.79,210.91 L325.25,210.92 L325.71,210.93 L326.18,210.95 L326.64,210.96 L327.10,210.97 L327.56,210.99 L328.02,211.00 L328.48,211.01 L328.94,211.02 L329.41,211.03 L329.87,211.05 L330.33,211.06 L330.79,211.07 L331.25,211.08 L331.71,211.09 L332.17,211.10 L332.64,211.11 L333.10,211.12 L333.56,211.13 L334.02,211.14 L334.48,211.14 L334.94,211.15 L335.40,211.16 L335.86,211.17 L336.33,211.18 L336.79,211.19 L337.25,211.19 L337.71,211.20 L338.17,211.21 L338.63,211.21 L339.09,211.22 L339.56,211.23 L340.02,211.23 L340.48,211.24 L340.94,211.25 L341.40,211.25 L341.86,211.26 L342.32,211.26 L342.79,211.27 L343.25,211.27 L343.71,211.28 L344.17,211.28 L344.63,211.29 L345.09,211.29 L345.55,211.30 L346.02,211.30 L346.48,211.31 L346.94,211.31 L347.40,211.32 L347.86,211.32 L348.32,211.32 L348.78,211.33 L349.24,211.33 L349.71,211.33 L350.17,211.34 L350.63,211.34 L351.09,211.34 L351.55,211.35 L352.01,211.35 L352.47,211.35 L352.94,211.35 L353.40,211.36 L353.86,211.36 L354.32,211.36 L354.78,211.36 L355.24,211.37 L355.70,211.37 L356.17,211.37 L356.63,211.37 L357.09,211.37 L357.55,211.37 L358.01,211.38 L358.47,211.38 L358.93,211.38 L359.39,211.38 L359.86,211.38 L360.32,211.38 L360.78,211.38 L361.24,211.38 L361.70,211.38 L362.16,211.38 L362.62,211.38 L363.09,211.38 L363.55,211.38 L364.01,211.38 L364.47,211.38 L364.93,211.38 L365.39,211.38 L365.85,211.38 L366.32,211.38 L366.78,211.38 L367.24,211.38 L367.70,211.38 L368.16,211.38 L368.62,211.38 L369.08,211.38 L369.55,211.38 L370.01,211.38 L370.47,211.37 L370.93,211.37 L371.39,211.37 L371.85,211.37 L372.31,211.37 L372.77,211.36 L373.24,211.36 L373.70,211.36 L374.16,211.36 L374.62,211.36 L375.08,211.35 L375.54,211.35 L376.00,211.35 L376.47,211.34 L376.93,211.34 L377.39,211.34 L377.85,211.33 L378.31,211.33 L378.77,211.32 L379.23,211.32 L379.70,211.32 L380.16,211.31 L380.62,211.31 L381.08,211.30 L381.54,211.30 L382.00,211.29 L382.46,211.28 L382.92,211.28 L383.39,211.27 L383.85,211.27 L384.31,211.26 L384.77,211.25 L385.23,211.24 L385.69,211.24 L386.15,211.23 L386.62,211.22 L387.08,211.21 L387.54,211.20 L388.00,211.19" stroke="#f00" stroke-width="1.1" stroke-dasharray="3.2 1.0"/>
</g>
<rect x="65.5" y="27.5" width="322.5" height="184.0" fill="none" stroke="#111" stroke-width="0.95"/>
<line x1="65.50" y1="211.5" x2="65.50" y2="207.6" stroke="#000" stroke-width="0.6"/>
<line x1="119.25" y1="211.5" x2="119.25" y2="207.6" stroke="#000" stroke-width="0.6"/>
<line x1="173.00" y1="211.5" x2="173.00" y2="207.6" stroke="#000" stroke-width="0.6"/>
<line x1="226.75" y1="211.5" x2="226.75" y2="207.6" stroke="#000" stroke-width="0.6"/>
<line x1="280.50" y1="211.5" x2="280.50" y2="207.6" stroke="#000" stroke-width="0.6"/>
<line x1="334.25" y1="211.5" x2="334.25" y2="207.6" stroke="#000" stroke-width="0.6"/>
<line x1="388.00" y1="211.5" x2="388.00" y2="207.6" stroke="#000" stroke-width="0.6"/>
<line x1="65.5" y1="211.50" x2="69.4" y2="211.50" stroke="#000" stroke-width="0.6"/>
<line x1="65.5" y1="185.21" x2="69.4" y2="185.21" stroke="#000" stroke-width="0.6"/>
<line x1="65.5" y1="158.93" x2="69.4" y2="158.93" stroke="#000" stroke-width="0.6"/>
<line x1="65.5" y1="132.64" x2="69.4" y2="132.64" stroke="#000" stroke-width="0.6"/>
<line x1="65.5" y1="106.36" x2="69.4" y2="106.36" stroke="#000" stroke-width="0.6"/>
<line x1="65.5" y1="80.07" x2="69.4" y2="80.07" stroke="#000" stroke-width="0.6"/>
<line x1="65.5" y1="53.79" x2="69.4" y2="53.79" stroke="#000" stroke-width="0.6"/>
<line x1="65.5" y1="27.50" x2="69.4" y2="27.50" stroke="#000" stroke-width="0.6"/>
<text x="61.9" y="215.70" font-size="11.9" text-anchor="end" textLength="32.8" lengthAdjust="spacingAndGlyphs">0.000</text>
<text x="61.9" y="190.31" font-size="11.9" text-anchor="end" textLength="32.8" lengthAdjust="spacingAndGlyphs">0.002</text>
<text x="61.9" y="164.03" font-size="11.9" text-anchor="end" textLength="32.8" lengthAdjust="spacingAndGlyphs">0.004</text>
<text x="61.9" y="137.74" font-size="11.9" text-anchor="end" textLength="32.8" lengthAdjust="spacingAndGlyphs">0.006</text>
<text x="61.9" y="111.46" font-size="11.9" text-anchor="end" textLength="32.8" lengthAdjust="spacingAndGlyphs">0.008</text>
<text x="61.9" y="85.17" font-size="11.9" text-anchor="end" textLength="32.8" lengthAdjust="spacingAndGlyphs">0.010</text>
<text x="61.9" y="58.89" font-size="11.9" text-anchor="end" textLength="32.8" lengthAdjust="spacingAndGlyphs">0.012</text>
<text x="61.9" y="32.60" font-size="11.9" text-anchor="end" textLength="32.8" lengthAdjust="spacingAndGlyphs">0.014</text>
<text x="65.60" y="226.0" font-size="12.2" text-anchor="middle" textLength="6.95" lengthAdjust="spacingAndGlyphs">0</text>
<text x="119.35" y="226.0" font-size="12.2" text-anchor="middle" textLength="6.95" lengthAdjust="spacingAndGlyphs">2</text>
<text x="173.10" y="226.0" font-size="12.2" text-anchor="middle" textLength="6.95" lengthAdjust="spacingAndGlyphs">4</text>
<text x="226.85" y="226.0" font-size="12.2" text-anchor="middle" textLength="6.95" lengthAdjust="spacingAndGlyphs">6</text>
<text x="280.60" y="226.0" font-size="12.2" text-anchor="middle" textLength="6.95" lengthAdjust="spacingAndGlyphs">8</text>
<text x="334.35" y="226.0" font-size="12.2" text-anchor="middle" textLength="13.9" lengthAdjust="spacingAndGlyphs">10</text>
<text x="388.10" y="226.0" font-size="12.2" text-anchor="middle" textLength="13.9" lengthAdjust="spacingAndGlyphs">12</text>
<text x="207.0" y="246.4" font-size="12.4" textLength="6.7" lengthAdjust="spacingAndGlyphs" font-style="italic">b</text>
<text x="222.3" y="246.3" font-size="12.0" textLength="23.5" lengthAdjust="spacingAndGlyphs">[fm]</text>
<g transform="translate(15.9,128.3) rotate(-90)"><text x="0" y="0" font-size="12.0" textLength="6.8" lengthAdjust="spacingAndGlyphs" font-style="italic">P</text><text x="6.9" y="2.6" font-size="8.6" textLength="9.6" lengthAdjust="spacingAndGlyphs" font-style="italic">ko</text></g>
<text x="294.1" y="86.0" font-size="7.6" textLength="8.7" lengthAdjust="spacingAndGlyphs">24</text>
<text x="303.3" y="90.2" font-size="10.6" textLength="12.2" lengthAdjust="spacingAndGlyphs">O(</text>
<text x="315.6" y="90.2" font-size="10.6" textLength="6.2" lengthAdjust="spacingAndGlyphs" font-style="italic">π</text>
<text x="322.0" y="90.2" font-size="10.6" textLength="33.5" lengthAdjust="spacingAndGlyphs">1p3/2)</text>
<text x="294.1" y="100.8" font-size="10.6" textLength="6.4" lengthAdjust="spacingAndGlyphs" font-style="italic">E</text>
<text x="300.6" y="102.7" font-size="7.6" textLength="4.9" lengthAdjust="spacingAndGlyphs" font-style="italic">B</text>
<text x="308.4" y="100.8" font-size="10.6" textLength="40.2" lengthAdjust="spacingAndGlyphs">= 31.88</text>
<text x="354.9" y="100.8" font-size="10.6" textLength="22.2" lengthAdjust="spacingAndGlyphs">MeV</text>
<text x="253.5" y="132.3" font-size="9.8" textLength="8.1" lengthAdjust="spacingAndGlyphs" font-style="italic">M</text>
<path d="M264.1,128.45h6.3M264.1,130.65h6.3" stroke="#000" stroke-width="0.95" fill="none"/>
<text x="278.9" y="132.3" font-size="9.8" text-anchor="middle">±</text>
<text x="287.9" y="132.3" font-size="9.8" text-anchor="middle">1</text>
<text x="213.2" y="165.5" font-size="9.8" textLength="8.1" lengthAdjust="spacingAndGlyphs" font-style="italic">M</text>
<path d="M224.0,161.6h6.3M224.0,163.8h6.3" stroke="#000" stroke-width="0.95" fill="none"/>
<text x="235.7" y="165.5" font-size="9.8" text-anchor="middle">0</text>
<rect x="334.3" y="32.6" width="49.5" height="30.1" rx="1.6" fill="#fff" fill-opacity="0.8" stroke="#ccc" stroke-width="0.8"/>
<line x1="338.3" y1="40.0" x2="356.9" y2="40.0" stroke="#000" stroke-width="1.7" stroke-dasharray="1.5 1.19"/>
<line x1="338" y1="54" x2="356.9" y2="54" stroke="#f00" stroke-width="1.65" stroke-dasharray="3.8 1.3"/>
<text x="364.1" y="43.2" font-size="9.6" textLength="15.3" lengthAdjust="spacingAndGlyphs">WS</text>
<text x="364.1" y="56.6" font-size="9.6" textLength="12.7" lengthAdjust="spacingAndGlyphs">GF</text>
</svg>
</body></html>
